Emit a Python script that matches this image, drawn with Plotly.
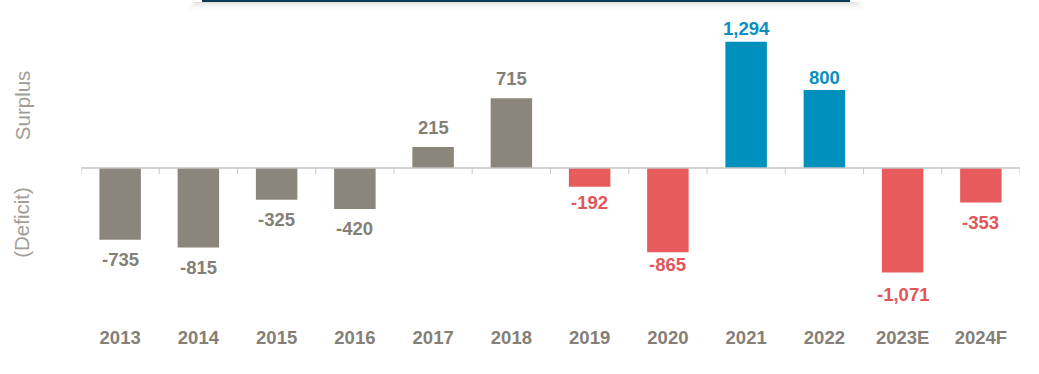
import plotly.graph_objects as go

# ---- data ----
years = ["2013", "2014", "2015", "2016", "2017", "2018", "2019", "2020", "2021", "2022", "2023E", "2024F"]
balance = [-735, -815, -325, -420, 215, 715, -192, -865, 1294, 800, -1071, -353]
group = ["hist", "hist", "hist", "hist", "hist", "hist", "deficit", "deficit", "surplus", "surplus", "deficit", "deficit"]

# ---- style ----
bar_colors = {"hist": "#8b867b", "deficit": "#e85b5c", "surplus": "#0090bd"}
text_colors = {"hist": "#848078", "deficit": "#e4555a", "surplus": "#0a8fbf"}
label_gap = {"hist": 20, "deficit": 16, "surplus": 13}
FONT = "Arial, Liberation Sans, sans-serif"

fig = go.Figure()
fig.add_trace(go.Bar(
    x=years, y=balance,
    marker=dict(color=[bar_colors[g] for g in group], line=dict(width=0)),
    width=0.53, hoverinfo="x+y",
))

# value labels
for i, (v, g) in enumerate(zip(balance, group)):
    gap = label_gap[g]
    if g == "deficit" and v < -1000:
        gap = 22
    if g == "deficit" and -400 < v < -300:
        gap = 20
    if g == "deficit" and -900 < v < -800:
        gap = 12
    fig.add_annotation(
        x=i, y=v, text=f"{v:,}", showarrow=False,
        yshift=gap if v > 0 else -gap, yanchor="middle",
        font=dict(family=FONT, size=18.5, color=text_colors[g], weight="bold"),
    )

# zero line and category boundary ticks
fig.add_shape(type="line", xref="paper", yref="y", x0=0, x1=1, y0=0, y1=0,
              line=dict(color="#c4c4c4", width=1.5))
for i in range(len(years) + 1):
    fig.add_shape(type="line", xref="x", yref="y", x0=i - 0.5, x1=i - 0.5,
                  ysizemode="pixel", yanchor=0, y0=0, y1=-6,
                  line=dict(color="#c8c8c8", width=1))

# axis side titles
fig.add_annotation(xref="paper", yref="paper", x=-0.0628, y=0.72, text="Surplus",
                   textangle=-90, showarrow=False, xanchor="center", yanchor="middle",
                   font=dict(family=FONT, size=20.5, color="#a29e97"))
fig.add_annotation(xref="paper", yref="paper", x=-0.0628, y=0.333, text="(Deficit)",
                   textangle=-90, showarrow=False, xanchor="center", yanchor="middle",
                   font=dict(family=FONT, size=20.5, color="#a29e97"))

# cropped header box at top (shadow + dark edge)
for k, a in enumerate([0.05, 0.035, 0.022, 0.012, 0.006]):
    fig.add_shape(type="rect", xref="paper", yref="paper",
                  x0=(196 - 81 - k * 2) / 939, x1=(856 - 81 + k * 2) / 939,
                  y0=(324 - (3 + k * 2)) / 304, y1=(324 - 2) / 304,
                  fillcolor=f"rgba(0,0,0,{a})", line=dict(width=0), layer="below")
fig.add_shape(type="rect", xref="paper", yref="paper",
              x0=(202 - 81) / 939, x1=(850 - 81) / 939,
              y0=(324 - 2) / 304, y1=(324 + 1) / 304,
              fillcolor="#0c3a55", line=dict(width=0))

fig.update_layout(
    width=1039, height=374,
    margin=dict(l=81, r=19, t=20, b=50),
    paper_bgcolor="white", plot_bgcolor="white",
    showlegend=False, bargap=0.47,
    xaxis=dict(type="category", range=[-0.5, len(years) - 0.5], showline=False, showgrid=False,
               zeroline=False, ticks="",
               tickfont=dict(family=FONT, size=18.5, color="#848078", weight="bold"),
               fixedrange=True),
    yaxis=dict(range=[-1600, 1518], visible=False, fixedrange=True),
    font=dict(family=FONT),
)

fig.write_html("out.html", config={"displayModeBar": False},
               post_script="document.body.style.margin='0';document.body.style.overflow='hidden';")
